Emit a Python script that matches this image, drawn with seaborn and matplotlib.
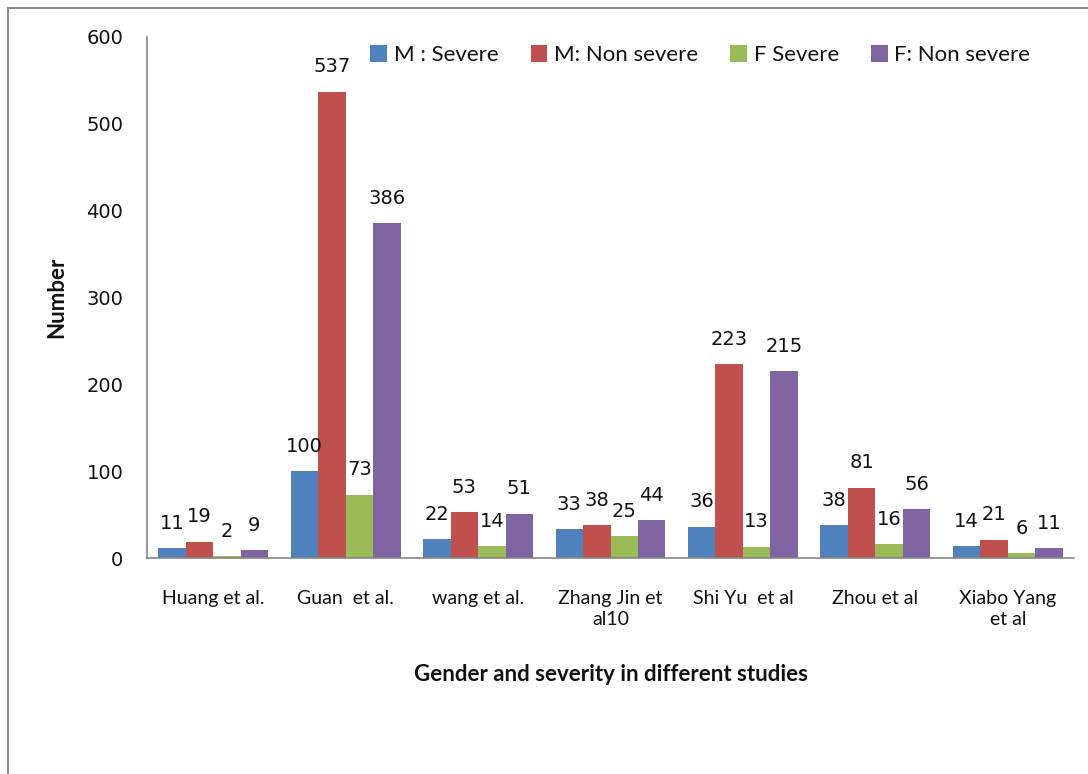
import matplotlib
matplotlib.use("Agg")
import matplotlib.pyplot as plt
from matplotlib.patches import Rectangle
import seaborn as sns
import pandas as pd

# Studies and counts per gender/severity group
studies = ["Huang et al.", "Guan  et al.", "wang et al.", "Zhang Jin et\nal10",
           "Shi Yu  et al", "Zhou et al", "Xiabo Yang\net al"]
groups = ["M : Severe", "M: Non severe", "F Severe", "F: Non severe"]
m_severe = [11, 100, 22, 33, 36, 38, 14]
m_non_severe = [19, 537, 53, 38, 223, 81, 21]
f_severe = [2, 73, 14, 25, 13, 16, 6]
f_non_severe = [9, 386, 51, 44, 215, 56, 11]
y_ticks = [0, 100, 200, 300, 400, 500, 600]

palette = ["#4F81BD", "#C0504D", "#9BBB59", "#8064A2"]

rows = []
for g, vals in zip(groups, [m_severe, m_non_severe, f_severe, f_non_severe]):
    for s, v in zip(studies, vals):
        rows.append({"Study": s, "Group": g, "Number": v})
df = pd.DataFrame(rows)

sns.set_style("white")
plt.rcParams["font.family"] = ["DejaVu Sans"]

fig = plt.figure(figsize=(10.88, 7.74), dpi=100)
ax = fig.add_axes([147 / 1088, 1 - 558 / 774, (1074 - 147) / 1088, (558 - 37) / 774])

sns.barplot(data=df, x="Study", y="Number", hue="Group", hue_order=groups,
            order=studies, palette=palette, width=0.83, saturation=1,
            errorbar=None, ax=ax, legend=True, linewidth=0, edgecolor="none")

for cont in ax.containers:
    ax.bar_label(cont, fmt="%d", padding=11, fontsize=14, color="#111111")

ax.set_ylim(0, 600)
ax.set_yticks(y_ticks)
ax.tick_params(axis="y", labelsize=14, length=0, pad=17, labelcolor="#111111",
               left=True)
ax.tick_params(axis="x", length=0, pad=23)
for lbl in ax.get_xticklabels():
    lbl.set_fontfamily("Lato")
    lbl.set_fontsize(14)
    lbl.set_color("#111111")
    lbl.set_linespacing(1.3)

for side in ["top", "right"]:
    ax.spines[side].set_visible(False)
for side in ["left", "bottom"]:
    ax.spines[side].set_color("#868686")
    ax.spines[side].set_linewidth(1.2)

ax.set_xlabel("Gender and severity in different studies", fontfamily="Lato",
              fontweight="bold", fontsize=16, labelpad=26, color="#111111")
ax.set_ylabel("Number", fontfamily="Lato", fontweight="bold", fontsize=16,
              labelpad=14, color="#111111")

leg = ax.legend(loc="center", bbox_to_anchor=(0.597, 0.965), ncol=4, frameon=False,
                handlelength=0.75, handleheight=0.75, handletextpad=0.3,
                columnspacing=1.45, prop={"family": "Lato", "size": 16})
for t in leg.get_texts():
    t.set_color("#111111")

# outer chart frame
fig.patches.append(Rectangle((8 / 1088, -0.1), 1.2, 1 - 8 / 774 + 0.1,
                             transform=fig.transFigure, fill=False,
                             edgecolor="#8c8c8c", linewidth=1.5))

fig.savefig("out.png", dpi=100)
